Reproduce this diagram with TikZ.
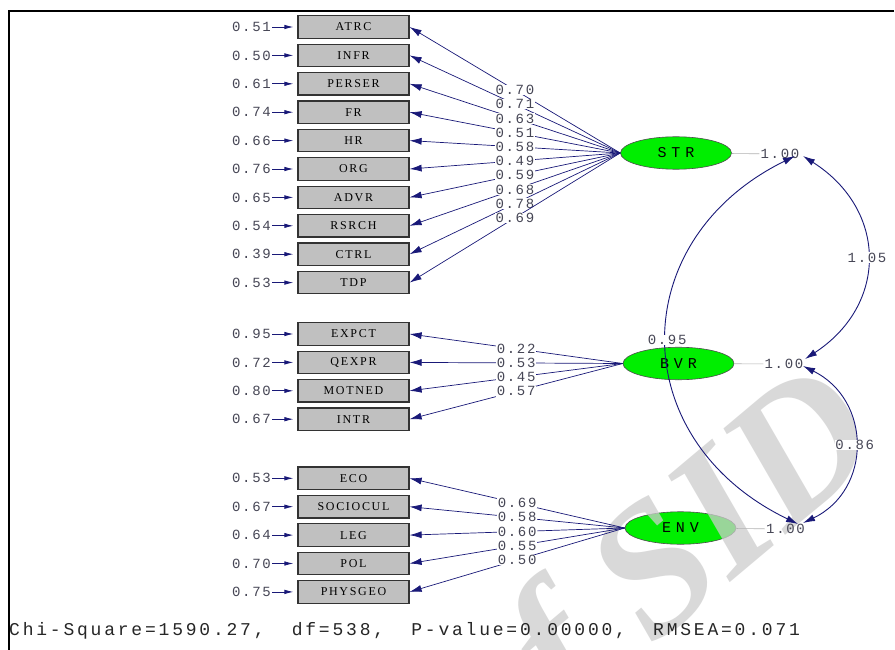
\documentclass[tikz,border=0pt]{standalone}
\usepackage{fontspec}
\usetikzlibrary{arrows.meta,shapes.geometric}
\newfontfamily\valfont[LetterSpace=12]{Liberation Mono}
\newfontfamily\chifont[LetterSpace=15.5]{Liberation Mono}
\newfontfamily\boxfont[LetterSpace=14]{Liberation Serif}
\newfontfamily\latfont[LetterSpace=32]{Liberation Mono}
\newfontfamily\wmfont{Liberation Serif}
\definecolor{lnavy}{RGB}{25,25,120}
\definecolor{boxgray}{RGB}{192,192,192}
\definecolor{latgreen}{RGB}{0,238,0}
\definecolor{valgray}{RGB}{70,70,85}
\definecolor{wmgray}{RGB}{205,205,205}
\newcommand{\dsp}{\hspace*{27.2pt}}
\tikzset{
  obs/.style={draw=black!80, line width=1.2, fill=boxgray, minimum width=111, minimum height=22.5, inner sep=0, font=\boxfont\fontsize{12}{12}\selectfont},
  lat/.style={ellipse, draw=black!70, line width=0.6, fill=latgreen, minimum width=111, minimum height=32.5, inner sep=0, font=\latfont\fontsize{15}{15}\selectfont},
  val/.style={font=\valfont\fontsize{14}{14}\selectfont, text=valgray, inner sep=1},
  lab/.style={val, fill=white, inner sep=0.5},
  load/.style={draw=lnavy, line width=0.7, -{Latex[length=12,width=7]}},
  err/.style={draw=lnavy, line width=0.8, -{Latex[length=9,width=4.5]}, shorten >=4},
  cov/.style={draw=lnavy, line width=0.9, {Latex[length=12,width=7]}-{Latex[length=12,width=7]}},
  varl/.style={draw=gray!60, line width=0.6},
}
\begin{document}
\begin{tikzpicture}[x=1pt,y=-1pt]
\clip (0,0) rectangle (895,650);
\fill[white] (0,0) rectangle (895,650);
\draw[line width=2] (894,11) -- (9,11) -- (9,651);

% latent variables
\node[lat] (STR) at (676,153) {STR};
\node[lat] (BVR) at (678.5,363.5) {BVR};
\node[lat] (ENV) at (680.5,528) {ENV};

% watermark
\node[font=\wmfont\bfseries\itshape\fontsize{185}{185}\selectfont, text=wmgray, opacity=0.75, rotate=40] (wm) at (700,548) {f SID};

% group 1
\foreach \n/\y/\e/\l in {ATRC/27/0.51/0.70, INFR/55.4/0.50/0.71, PERSER/83.8/0.61/0.63, FR/112.2/0.74/0.51, HR/140.6/0.66/0.58, ORG/169/0.76/0.49, ADVR/197.4/0.65/0.59, RSRCH/225.8/0.54/0.68, CTRL/254.2/0.39/0.78, TDP/282.6/0.53/0.69}{
  \node[obs] (\n) at (353.5,\y) {\n};
  \node[val, anchor=east] (e\n) at (272,\y) {\e};
  \draw[err] (e\n) -- (\n);
  \draw[load] (STR.west) -- node[lab] (l\n) {\l} (\n.east);
}
% group 2
\foreach \n/\y/\e/\l in {EXPCT/334/0.95/0.22, QEXPR/362.4/0.72/0.53, MOTNED/390.8/0.80/0.45, INTR/419.2/0.67/0.57}{
  \node[obs] (\n) at (353.5,\y) {\n};
  \node[val, anchor=east] (e\n) at (272,\y) {\e};
  \draw[err] (e\n) -- (\n);
  \draw[load] (BVR.west) -- node[lab] (l\n) {\l} (\n.east);
}
% group 3
\foreach \n/\y/\e/\l in {ECO/478.3/0.53/0.69, SOCIOCUL/506.7/0.67/0.58, LEG/535.1/0.64/0.60, POL/563.5/0.70/0.55, PHYSGEO/591.9/0.75/0.50}{
  \node[obs] (\n) at (353.5,\y) {\n};
  \node[val, anchor=east] (e\n) at (272,\y) {\e};
  \draw[err] (e\n) -- (\n);
  \draw[load] (ENV.west) -- node[lab] (l\n) {\l} (\n.east);
}

% variances
\node[val] (vSTR) at (780,154) {1.00};
\node[val] (vBVR) at (784,364) {1.00};
\node[val] (vENV) at (785.5,529) {1.00};
\draw[varl] (STR) -- (vSTR);
\draw[varl] (BVR) -- (vBVR);
\draw[varl] (ENV) -- (vENV);

% covariance end points
\coordinate (s1) at (803,156);
\coordinate (s2) at (795,156);
\coordinate (b1) at (805,359);
\coordinate (b2) at (803,366);
\coordinate (n1) at (798,524);
\coordinate (n2) at (803,523);

\draw[cov] (s1) .. controls (888,210) and (888,305) .. node[lab, pos=0.5] (k1) {1.05} (b1);
\draw[cov] (b2) .. controls (872,400) and (872,490) .. node[lab, pos=0.5] (k2) {0.86} (n2);
\draw[cov] (s2) .. controls (624,240) and (624,440) .. node[lab, pos=0.5] (k3) {0.95} (n1);

% fit statistics
\node[anchor=west, inner sep=0, font=\chifont\fontsize{18}{18}\selectfont, text=black!85] (chi) at (9,631) {Chi-Square=1590.27,\dsp df=538,\dsp P-value=0.00000,\dsp RMSEA=0.071};
\end{tikzpicture}
\end{document}
